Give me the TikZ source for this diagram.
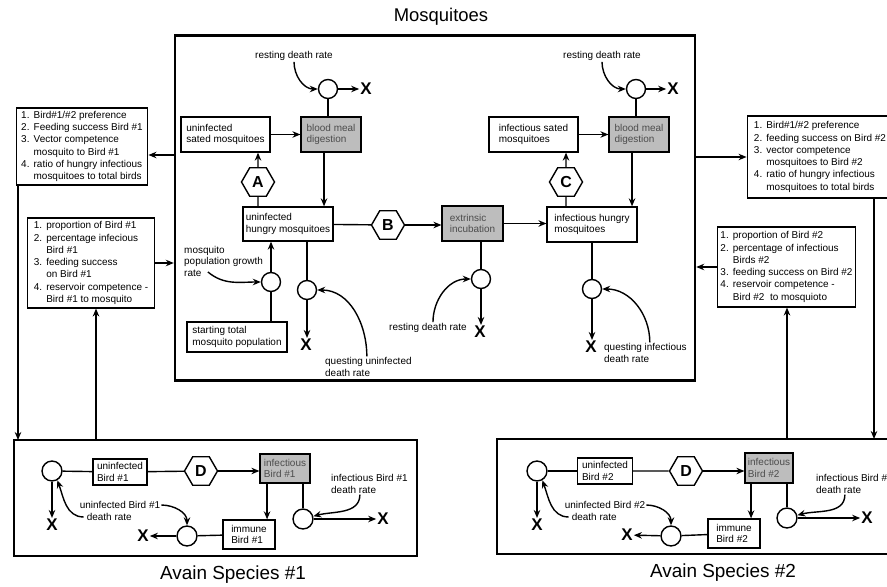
\documentclass[tikz,border=0pt]{standalone}
\usepackage{fontspec}
\setmainfont{Liberation Sans}
\usepackage{tikz}
\usetikzlibrary{arrows.meta,shapes.geometric,positioning}
\definecolor{digest}{gray}{0.74}
\newcommand{\numit}[2]{\makebox[1.25em][l]{#1}#2}
\newcommand{\contl}{\hspace*{1.25em}}

\begin{document}
\begin{tikzpicture}[x=1bp,y=-1bp,
    box/.style={draw, line width=1.4bp, fill=white, align=left, inner sep=2bp, font=\fontsize{10}{11.5}\selectfont},
    gbox/.style={box, fill=digest, text=black!70},
    lst/.style={draw, line width=1.4bp, align=left, inner xsep=3bp, inner ysep=2bp, font=\fontsize{10}{12.3}\selectfont},
    lbl/.style={align=left, inner sep=1bp, font=\fontsize{10}{11.5}\selectfont},
    hexa/.style={draw, line width=1.4bp, fill=white, regular polygon, regular polygon sides=6, minimum size=33bp, inner sep=0pt, font=\bfseries\fontsize{16}{16}\selectfont},
    sink/.style={draw, circle, line width=1.4bp, fill=white, minimum size=19bp, inner sep=0pt},
    xout/.style={inner sep=1bp, font=\bfseries\fontsize{17}{17}\selectfont},
    flow/.style={line width=1.4bp, -{Stealth[length=8bp,width=6.5bp]}},
    link/.style={line width=1.4bp},
    panel/.style={draw, line width=2.4bp, inner sep=0pt},
    ttl/.style={font=\fontsize{19}{19}\selectfont}]

    \useasboundingbox (0,0) rectangle (887,587);

    % Titles
    \node[ttl, font=\fontsize{18.5}{18.5}\selectfont] (tMos) at (441,17) {Mosquitoes};
    \node[ttl] (tAv1) at (233,575) {Avain Species \#1};
    \node[ttl] (tAv2) at (723,573) {Avain Species \#2};

    % Compartment frames
    \node[panel, minimum width=522, minimum height=346] (mbox) at (435,208) {};
    \node[panel, minimum width=405, minimum height=116] (bird1) at (215.5,498) {};
    \node[panel, minimum width=399, minimum height=115] (bird2) at (695.5,496.5) {};

    % Parameter lists, left
    \node[lst, minimum width=132, minimum height=77] (lPref1) at (82,146.5) {\numit{1.}{Bird\#1/\#2 preference}\\ \numit{2.}{Feeding success Bird \#1}\\ \numit{3.}{Vector competence}\\ \contl mosquito to Bird \#1\\ \numit{4.}{ratio of hungry infectious}\\ \contl mosquitoes to total birds};
    \node[lst, minimum width=128, minimum height=90] (lProp1) at (91,263) {\numit{1.}{proportion of Bird \#1}\\ \numit{2.}{percentage infecious}\\ \contl Bird \#1\\ \numit{3.}{feeding success}\\ \contl on Bird \#1\\ \numit{4.}{reservoir competence -}\\ \contl Bird \#1 to mosquito};

    % Parameter lists, right
    \node[lst, minimum width=146, minimum height=82] (rPref2) at (820,157) {\numit{1.}{Bird\#1/\#2 preference}\\ \numit{2.}{feeding success on Bird \#2}\\ \numit{3.}{vector competence}\\ \contl mosquitoes to Bird \#2\\ \numit{4.}{ratio of hungry infectious}\\ \contl mosquitoes to total birds};
    \node[lst, minimum width=139, minimum height=80] (rProp2) at (786.5,267) {\numit{1.}{proportion of Bird \#2}\\ \numit{2.}{percentage of infectious}\\ \contl Birds \#2\\ \numit{3.}{feeding success on Bird \#2}\\ \numit{4.}{reservoir competence -}\\ \contl Bird \#2\ \ to mosquioto};

    % Links between compartments
    \coordinate (mL1) at (174,155);
    \coordinate (dn1) at (18,440);
    \coordinate (up1) at (96,440);
    \coordinate (dn2) at (874,439);
    \coordinate (up2) at (787,439);
    \draw[flow] (mL1) -- (mL1 -| lPref1.east);
    \draw[flow] (lProp1.east) -- (lProp1.east -| mbox.west);
    \draw[flow] (dn1 |- lPref1.south) -- (dn1);
    \draw[flow] (up1) -- (up1 |- lProp1.south);
    \draw[flow] (mbox.east |- rPref2.west) -- (rPref2.west);
    \draw[flow] (rProp2.west) -- (rProp2.west -| mbox.east);
    \draw[flow] (dn2 |- rPref2.south) -- (dn2);
    \draw[flow] (up2) -- (up2 |- rProp2.south);

    % Mosquitoes: uninfected side
    \node[lbl] (lRest1) at (294,56) {resting death rate};
    \node[sink] (cRest1) at (328,89) {};
    \node[xout] (xRest1) at (366,89) {X};
    \node[box, minimum width=89, minimum height=35] (sated1) at (225.5,134.5) {uninfected\\sated mosquitoes};
    \node[gbox, minimum width=60, minimum height=35] (digest1) at (331,134.5) {blood meal\\digestion};
    \node[hexa] (hexA) at (258,182) {A};
    \node[box, minimum width=90, minimum height=34] (hungry1) at (288,224) {uninfected\\hungry mosquitoes};
    \node[hexa] (hexB) at (388,225) {B};
    \node[gbox, minimum width=61, minimum height=35] (incub) at (472.5,223.5) {extrinsic\\incubation};
    \node[sink] (cGrow) at (271,282) {};
    \node[lbl, anchor=west] (lGrow) at (183,261) {mosquito\\population growth\\rate};
    \node[box, minimum width=100, minimum height=30] (start) at (237,337) {starting total\\mosquito population};
    \node[sink] (cQU) at (307,290) {};
    \node[xout] (xQU) at (306,345) {X};
    \node[lbl, anchor=west] (lQU) at (324,367) {questing uninfected\\death rate};
    \node[sink] (cIncub) at (481,279) {};
    \node[xout] (xIncub) at (480,332) {X};
    \node[lbl] (lRest3) at (428,328) {resting death rate};

    % Mosquitoes: infectious side
    \node[lbl] (lRest2) at (602,56) {resting death rate};
    \node[sink] (cRest2) at (636,89) {};
    \node[xout] (xRest2) at (673,89) {X};
    \node[box, minimum width=89, minimum height=35] (sated2) at (533.5,134.5) {infectious sated\\mosquitoes};
    \node[gbox, minimum width=60, minimum height=35] (digest2) at (639,134.5) {blood meal\\digestion};
    \node[hexa] (hexC) at (566,182) {C};
    \node[box, minimum width=90, minimum height=35] (hungry2) at (592,224.5) {infectious hungry\\mosquitoes};
    \node[sink] (cQI) at (592,289) {};
    \node[xout] (xQI) at (591,347) {X};
    \node[lbl, anchor=west] (lQI) at (603,353) {questing infectious\\death rate};

    % Mosquito flows
    \draw[flow] (lRest1.south) to[out=-90,in=180] (cRest1.west);
    \draw[flow] (cRest1) -- (xRest1);
    \draw[link] (cRest1) -- (cRest1 |- digest1.north);
    \draw[flow] (sated1) -- (digest1);
    \draw[flow] ([xshift=-7pt]digest1.south) -- ([xshift=-7pt]digest1.south |- hungry1.north);
    \draw[flow] (hexA) -- (hexA |- sated1.south);
    \draw[link] (hexA) -- (hexA |- hungry1.north);
    \draw[link] (hungry1) -- (hexB);
    \draw[flow] (hexB.east) -- (hexB.east -| incub.west);
    \draw[flow] (incub.east) -- (incub.east -| hungry2.west);
    \draw[flow] (cGrow) -- (cGrow |- hungry1.south);
    \draw[link] (cGrow |- start.north) -- (cGrow);
    \draw[flow] ([shift={(25pt,-11pt)}]lGrow.west) to[out=-40,in=180] (cGrow.west);
    \draw[link] (cQU |- hungry1.south) -- (cQU);
    \draw[flow] (cQU) -- (cQU |- xQU.north);
    \draw[flow] ([xshift=43pt]lQU.north west) to[out=90,in=0] (cQU.east);
    \draw[link] (cIncub |- incub.south) -- (cIncub);
    \draw[flow] (cIncub) -- (cIncub |- xIncub.north);
    \draw[flow] ([xshift=5pt]lRest3.north) to[out=90,in=180] (cIncub.west);
    \draw[flow] (lRest2.south) to[out=-90,in=180] (cRest2.west);
    \draw[flow] (cRest2) -- (xRest2);
    \draw[link] (cRest2) -- (cRest2 |- digest2.north);
    \draw[flow] (sated2) -- (digest2);
    \draw[flow] ([xshift=-7pt]digest2.south) -- ([xshift=-7pt]digest2.south |- hungry2.north);
    \draw[flow] (hexC) -- (hexC |- sated2.south);
    \draw[link] (hexC) -- (hexC |- hungry2.north);
    \draw[link] (cQI |- hungry2.south) -- (cQI);
    \draw[flow] (cQI) -- (cQI |- xQI.north);
    \draw[flow] ([xshift=47pt]lQI.north west) to[out=90,in=0] (cQI.east);

    % Avian species 1
    \node[sink, minimum size=20] (cU1) at (52,471) {};
    \node[box, minimum width=54, minimum height=26] (uninf1) at (120,472) {uninfected\\Bird \#1};
    \node[hexa] (hexD1) at (201,471) {D};
    \node[gbox, minimum width=50, minimum height=29] (inf1) at (285,468.5) {infectious\\Bird \#1};
    \node[box, minimum width=52, minimum height=29] (imm1) at (249,534.5) {immune\\Bird \#1};
    \node[sink, minimum size=20] (cI1) at (187,536) {};
    \node[xout] (xI1) at (143,536) {X};
    \node[sink, minimum size=20] (cD1) at (303,519) {};
    \node[xout] (xD1) at (383,519) {X};
    \node[xout] (xU1) at (52,525) {X};
    \node[lbl] (lU1) at (120,511) {uninfected Bird \#1\\\hspace*{0.7em}death rate};
    \node[lbl, anchor=west] (lD1) at (330,484) {infectious Bird \#1\\death rate};
    \draw[link] (cU1) -- (uninf1);
    \draw[link] (uninf1) -- (hexD1);
    \draw[flow] (hexD1.east) -- (hexD1.east -| inf1.west);
    \draw[flow] (cU1) -- (cU1 |- xU1.north);
    \draw[flow] ([shift={(5pt,-6pt)}]lU1.west) to[out=180,in=-70] (cU1.-60);
    \draw[flow] ([yshift=6pt]lU1.east) to[out=0,in=90] (cI1.north);
    \draw[flow] ([xshift=-18pt]inf1.south) -- ([xshift=-18pt]inf1.south |- imm1.north);
    \draw[link] (cD1 |- inf1.south) -- (cD1);
    \draw[flow] (cD1.east) -- (xD1.west);
    \draw[flow] ([xshift=30pt]lD1.south west) to[out=-90,in=15] (cD1.15);
    \draw[link] (imm1) -- (cI1);
    \draw[flow] (cI1) -- (xI1);

    % Avian species 2
    \node[sink, minimum size=20] (cU2) at (537,471) {};
    \node[box, minimum width=55, minimum height=26] (uninf2) at (605,471) {uninfected\\Bird \#2};
    \node[hexa] (hexD2) at (686,471) {D};
    \node[gbox, minimum width=48, minimum height=30] (inf2) at (769,468) {infectious\\Bird \#2};
    \node[box, minimum width=52, minimum height=29] (imm2) at (734,533.5) {immune\\Bird \#2};
    \node[sink, minimum size=20] (cI2) at (671,536) {};
    \node[xout] (xI2) at (627,535) {X};
    \node[sink, minimum size=20] (cD2) at (787,518) {};
    \node[xout] (xD2) at (867,518) {X};
    \node[xout] (xU2) at (537,525) {X};
    \node[lbl] (lU2) at (605,511) {uninfected Bird \#2\\\hspace*{0.7em}death rate};
    \node[lbl, anchor=west] (lD2) at (815,484) {infectious Bird \#2\\death rate};
    \draw[link] (cU2) -- (uninf2);
    \draw[link] (uninf2) -- (hexD2);
    \draw[flow] (hexD2.east) -- (hexD2.east -| inf2.west);
    \draw[flow] (cU2) -- (cU2 |- xU2.north);
    \draw[flow] ([shift={(5pt,-6pt)}]lU2.west) to[out=180,in=-70] (cU2.-60);
    \draw[flow] ([yshift=6pt]lU2.east) to[out=0,in=90] (cI2.north);
    \draw[flow] ([xshift=-18pt]inf2.south) -- ([xshift=-18pt]inf2.south |- imm2.north);
    \draw[link] (cD2 |- inf2.south) -- (cD2);
    \draw[flow] (cD2.east) -- (xD2.west);
    \draw[flow] ([xshift=30pt]lD2.south west) to[out=-90,in=15] (cD2.15);
    \draw[link] (imm2) -- (cI2);
    \draw[flow] (cI2) -- (xI2);
\end{tikzpicture}
\end{document}
